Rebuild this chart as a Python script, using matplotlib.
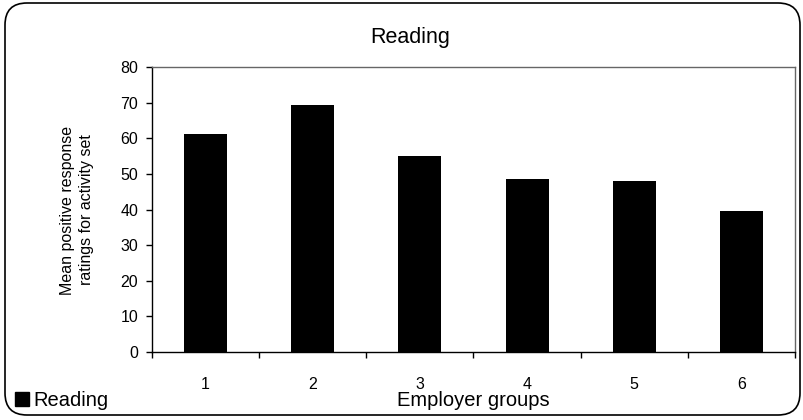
import matplotlib
matplotlib.use('Agg')
import matplotlib.pyplot as plt
from matplotlib.patches import FancyBboxPatch, Patch
import numpy as np

plt.rcParams['font.family'] = ['Liberation Sans', 'DejaVu Sans']

groups = ['1', '2', '3', '4', '5', '6']
reading = [61.2, 69.4, 55.0, 48.5, 48.0, 39.5]
yticks = [0, 10, 20, 30, 40, 50, 60, 70, 80]

fig = plt.figure(figsize=(8.04, 4.2), dpi=100)
ax = fig.add_axes([152 / 804, 1 - 352 / 420, (795 - 152) / 804, (352 - 67) / 420])

x = np.arange(1, len(groups) + 1)
ax.bar(x, reading, width=0.4, color='black', zorder=2)

ax.set_xlim(0.5, len(groups) + 0.5)
ax.set_ylim(0, 80)
ax.set_yticks(yticks)
ax.tick_params(axis='y', direction='out', length=4, width=1, pad=6, labelsize=11.5)

# category labels sit between boundary ticks
ax.set_xticks(x)
ax.set_xticklabels(groups)
ax.set_xticks(np.arange(0.5, len(groups) + 1), minor=True)
ax.tick_params(axis='x', which='major', length=0, pad=18, labelsize=11.5)
ax.tick_params(axis='x', which='minor', direction='out', length=4, width=1)

for side in ['left', 'bottom']:
    ax.spines[side].set_color('black')
    ax.spines[side].set_linewidth(1)
for side in ['top', 'right']:
    ax.spines[side].set_color('#666666')
    ax.spines[side].set_linewidth(1)

fig.text(410 / 804, 1 - 37 / 420, 'Reading', ha='center', va='center', fontsize=15.5)
fig.text(473 / 804, 1 - 401 / 420, 'Employer groups', ha='center', va='center', fontsize=14.5)
fig.text(77 / 804, 0.5, 'Mean positive response\nratings for activity set',
         rotation=90, ha='center', va='center', fontsize=11.5, linespacing=1.4)

fig.legend(handles=[Patch(facecolor='black', edgecolor='black')], labels=['Reading'],
           loc='lower left', bbox_to_anchor=(15 / 804, 1 - 410 / 420),
           frameon=False, fontsize=14.5, handlelength=0.7, handleheight=0.7,
           handletextpad=0.2, borderpad=0, borderaxespad=0)

# rounded outline around the whole chart
border = FancyBboxPatch((0.05, 0.05), 7.95, 4.12,
                        boxstyle='round,pad=0,rounding_size=0.22',
                        transform=fig.dpi_scale_trans, facecolor='none',
                        edgecolor='black', linewidth=1.2)
fig.patches.append(border)

fig.savefig('out.png', dpi=100)
